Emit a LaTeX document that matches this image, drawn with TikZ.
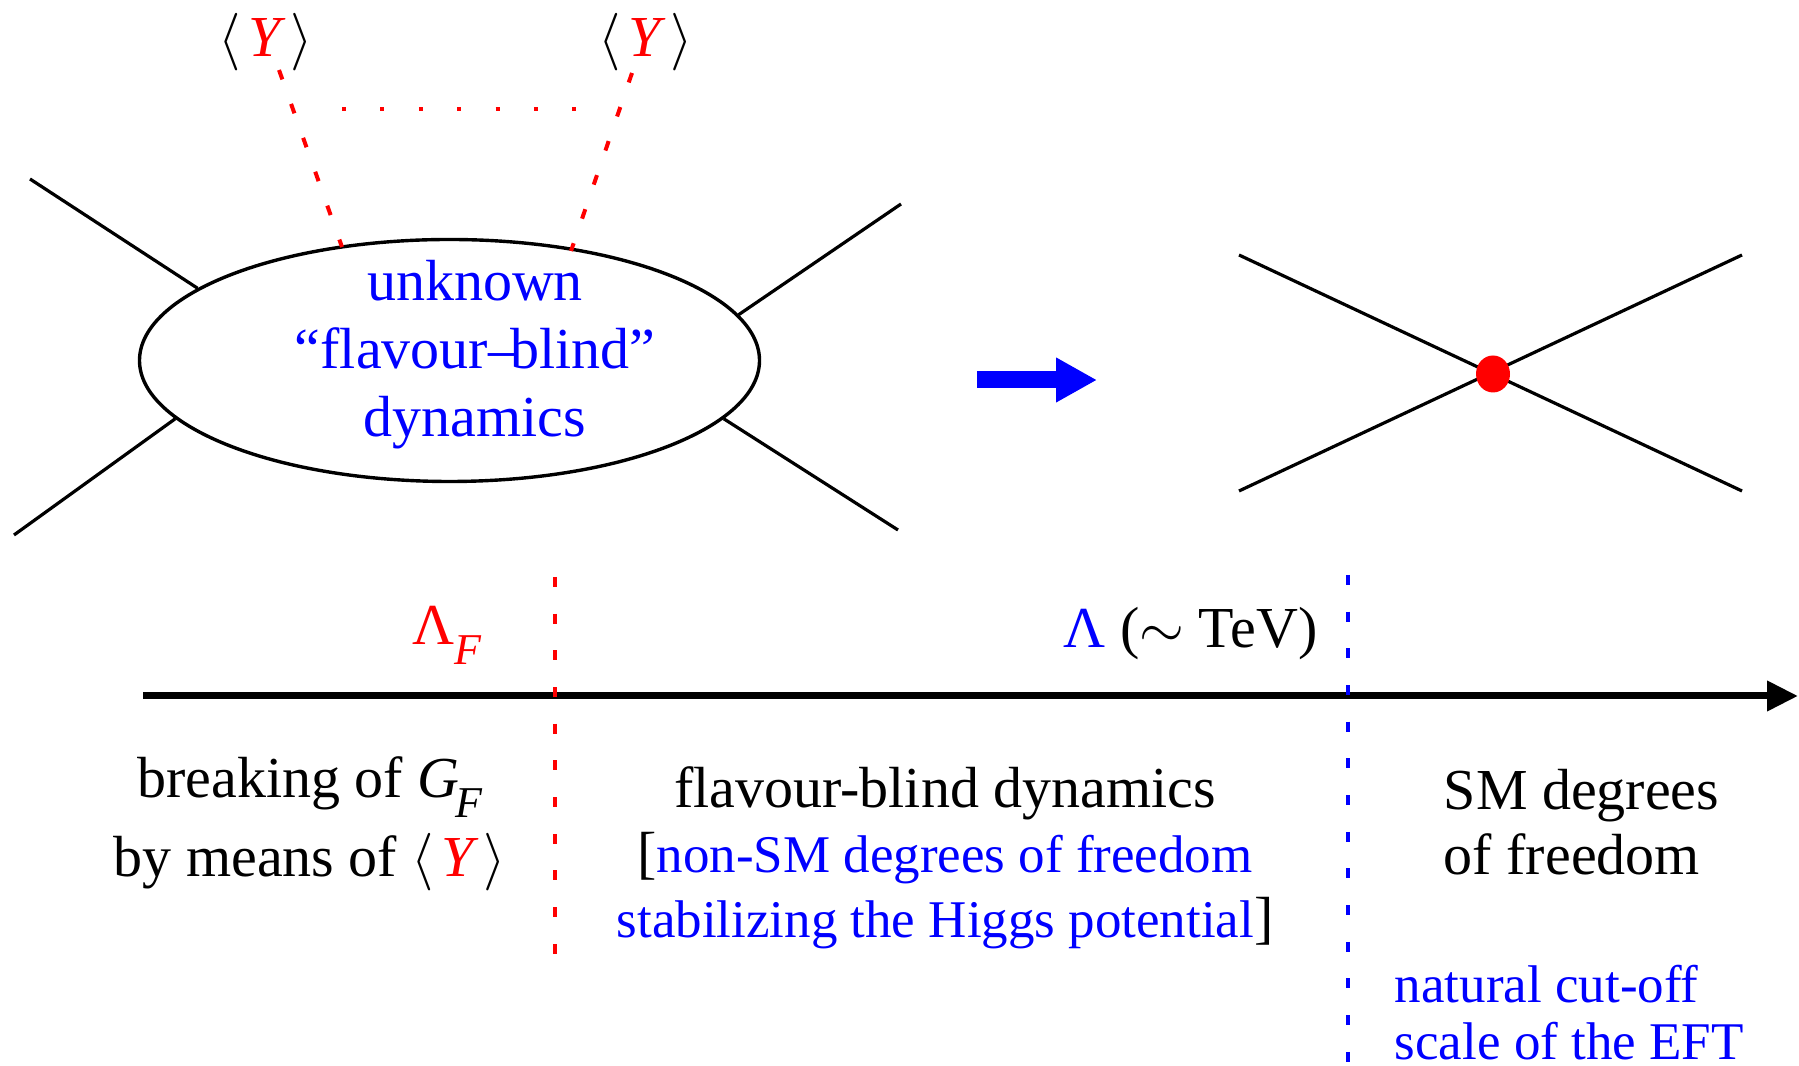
\documentclass[tikz,border=0pt]{standalone}
\usepackage{fontspec}
\setmainfont{Liberation Serif}
\usetikzlibrary{shapes.geometric, arrows.meta, positioning, calc}
\definecolor{vevRed}{HTML}{FF0000}
\definecolor{dynBlue}{HTML}{0000FF}
\newcommand{\vevY}{$\langle$\kern0.12em\textit{\textcolor{vevRed}{Y}}\kern0.18em$\rangle$}
\newcommand{\lowsub}[1]{\raisebox{-0.34em}{\fontsize{11}{11}\selectfont\itshape #1}}
\newcommand{\bluesmall}[1]{{\fontsize{13.25}{16.25}\selectfont\color{dynBlue}#1}}
\begin{document}
\begin{tikzpicture}[
		x=0.25pt, y=-0.25pt,
		%--- Line Styles ---------------------------------------------------
		leg/.style={line width=0.8pt, draw=black},
		vevline/.style={draw=vevRed, line width=1pt,
			dash pattern=on 2.5pt off 6.5pt},
		vevdots/.style={draw=vevRed, line width=1pt,
			dash pattern=on 1pt off 8.6pt},
		scaleline/.style={line width=1pt,
			dash pattern=on 2.5pt off 6.67pt},
		axisarrow/.style={line width=1.75pt,
			-{Triangle[length=7.75pt,width=7.25pt]}},
		%--- Text Styles ---------------------------------------------------
		bigtxt/.style={inner sep=0pt, font=\fontsize{14.5}{17}\selectfont},
		smalltxt/.style={inner sep=0pt, font=\fontsize{13.25}{14.25}\selectfont}
		]
		\useasboundingbox (0,0) rectangle (1799,1066);
		
		%--- Blob with its legs --------------------------------------------
		
		\node[ellipse, draw, line width=0.85pt, inner sep=0pt,
		minimum width=155pt, minimum height=60.5pt] (blob) at (449.5,360.5) {};
		
		% base anchor sits on the last line
		\node[bigtxt, text=dynBlue, align=center, anchor=base] (blobtxt)
		at (475,437) {unknown\\“flavour–\kern-0.12em blind”\\dynamics};
		
		\coordinate (legUL) at (30,179);
		\coordinate (legLL) at (14,535);
		\coordinate (legUR) at (901,204);
		\coordinate (legLR) at (898,530);
		
		\draw[leg] (legUL) -- (blob.164.95);
		\draw[leg] (legLL) -- (blob.192.87);
		\draw[leg] (legUR) -- (blob.9.08);
		\draw[leg] (legLR) -- (blob.348.84);
		
		%--- Spurion insertions --------------------------------------------
		
		\node[bigtxt, anchor=base] (vevL) at (266,57) {\vevY};
		\node[bigtxt, anchor=base] (vevR) at (646,57) {\vevY};
		
		\coordinate (vevLtop) at (279,70);
		\coordinate (vevRtop) at (632,73);
		\coordinate (blobL) at (342,247);
		\coordinate (blobR) at (571,251);
		\coordinate (dotsL) at (342,109);
		\coordinate (dotsR) at (580,109);
		
		\draw[vevline] (vevLtop) -- (blobL);
		\draw[vevline] (vevRtop) -- (blobR);
		\draw[vevdots] (dotsL) -- (dotsR);
		
		%--- Arrow to the effective vertex ---------------------------------
		
		\coordinate (arrS) at (977,380);
		\coordinate (arrE) at (1097,380);
		\draw[dynBlue, line width=4.25pt,
		-{Triangle[length=10.25pt,width=10.5pt]}] (arrS) -- (arrE);
		
		%--- Effective vertex ----------------------------------------------
		
		\coordinate (xUL) at (1239,255);
		\coordinate (xLL) at (1239,491);
		\coordinate (xUR) at (1742,255);
		\coordinate (xLR) at (1742,491);
		\draw[leg] (xUL) -- (xLR);
		\draw[leg] (xLL) -- (xUR);
		\node[ellipse, fill=vevRed, inner sep=0pt,
		minimum width=8.5pt, minimum height=9.25pt] (vertex) at (1493,374) {};
		
		%--- Energy axis and scales ----------------------------------------
		
		\coordinate (axS) at (143,696);
		\coordinate (axE) at (1798,696);
		\draw[axisarrow] (axS) -- (axE);
		
		\coordinate (lamFtop) at (555,577);
		\coordinate (lamFbot) at (555,979);
		\coordinate (lamtop) at (1348,575);
		\coordinate (lambot) at (1348,1066);
		\draw[scaleline, draw=vevRed] (lamFtop) -- (lamFbot);
		\draw[scaleline, draw=dynBlue] (lamtop) -- (lambot);
		
		\node[bigtxt, text=vevRed, anchor=base west] (lamF)
		at (412,645) {Λ\lowsub{F}};
		\node[bigtxt, anchor=base west] (lamTeV)
		at (1063,648) {\textcolor{dynBlue}{Λ} ($\sim$ TeV)};
		
		%--- Regimes below the axis ----------------------------------------
		
		\node[bigtxt, font=\fontsize{14.5}{19.75}\selectfont,
		align=center, anchor=base] (breaking)
		at (310,877) {breaking of \textit{G}\kern-0.06em\lowsub{F}\\by means of \vevY};
		
		\node[bigtxt, font=\fontsize{14.5}{16.25}\selectfont,
		align=center, anchor=base] (blindtxt)
		at (945,938) {flavour-blind dynamics\\{[}\bluesmall{non-SM degrees of freedom}\\\bluesmall{stabilizing the Higgs potential}{]}};
		
		\node[bigtxt, font=\fontsize{14.5}{16.25}\selectfont,
		align=left, anchor=base west] (smdof)
		at (1443,875) {SM degrees\\of freedom};
		
		\node[smalltxt, text=dynBlue, align=left, anchor=base west] (cutoff)
		at (1394,1060) {natural cut-off\\scale of the EFT};
		
	\end{tikzpicture}
\end{document}
